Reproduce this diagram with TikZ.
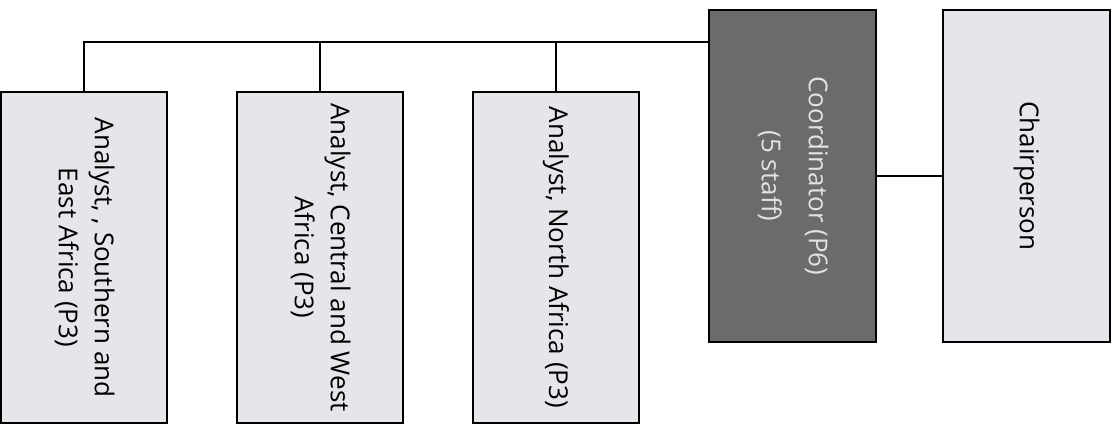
\documentclass[tikz,border=0pt]{standalone}
\usepackage{fontspec}
\usepackage{graphicx}
\setmainfont{Open Sans}
\usepackage{tikz}
\usetikzlibrary{calc,positioning}
\definecolor{lightbox}{HTML}{E5E6EA}
\definecolor{darkbox}{HTML}{6B6B6B}
\definecolor{darktext}{HTML}{E2E2E2}
\tikzset{
  post/.style={draw=black,line width=1.6pt,fill=lightbox,inner sep=0pt,
    minimum width=166pt,minimum height=331pt,
    font=\fontsize{26}{36}\selectfont},
  head/.style={post,fill=darkbox,text=darktext,minimum height=332pt,minimum width=167pt},
  link/.style={line width=1.6pt}
}

\begin{document}
\begin{tikzpicture}[x=1pt,y=-1pt]
  \useasboundingbox (0,0) rectangle (1115,426);

  \node[post] (south) at (84,257.5)
    {\rotatebox{-90}{\begin{tabular}{@{}c@{}}Analyst, , Southern and\\East Africa (P3)\end{tabular}}};
  \node[post] (central) at (320,257.5)
    {\rotatebox{-90}{\begin{tabular}{@{}c@{}}Analyst, Central and West\\Africa (P3)\end{tabular}}};
  \node[post] (north) at (556,257.5)
    {\rotatebox{-90}{Analyst, North Africa (P3)}};
  \node[head] (coord) at (792.5,176)
    {\rotatebox{-90}{\begin{tabular}{@{}c@{}}Coordinator (P6)\\[11pt](5 staff)\end{tabular}}};
  \node[post,minimum height=332pt,minimum width=167pt] (chair) at (1026.5,176)
    {\rotatebox{-90}{Chairperson}};

  \coordinate (busend) at (coord.west |- 0,42);
  \draw[link] (south.north) |- (busend);
  \draw[link] (central.north) -- (central.north |- busend);
  \draw[link] (north.north) -- (north.north |- busend);
  \draw[link] (coord.east) -- (chair.west);
\end{tikzpicture}
\end{document}
